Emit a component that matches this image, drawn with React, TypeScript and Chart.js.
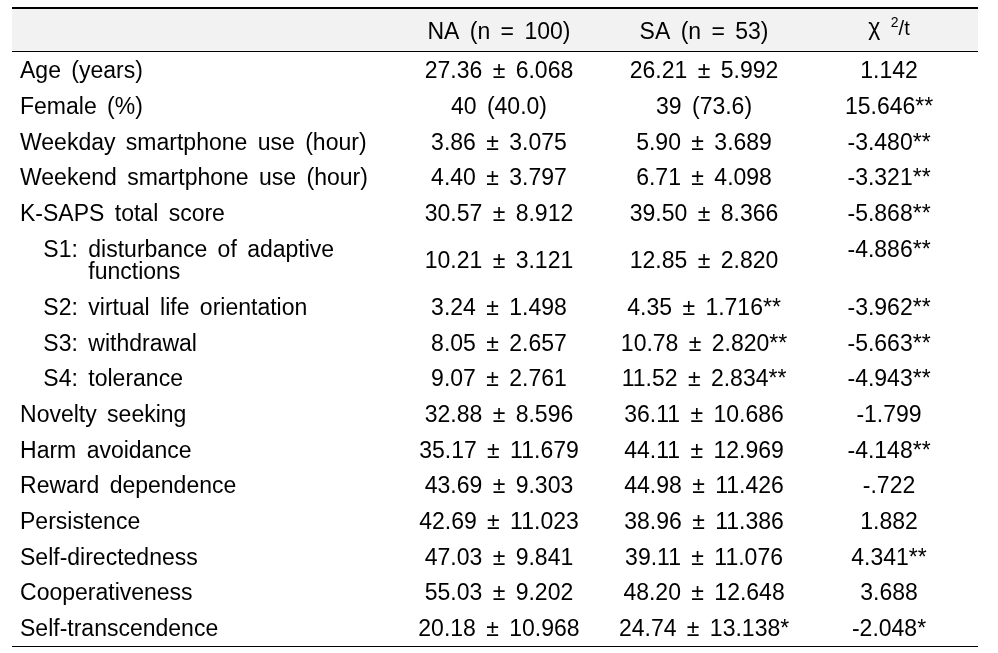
import React, { useEffect, useRef } from "react";
import { Chart, registerables } from "chart.js";

Chart.register(...registerables);

// ---- Data ----
const columnHeaders = ["NA (n = 100)", "SA (n = 53)", "χ ^2/t"];

const rowLabels = [
  "Age (years)",
  "Female (%)",
  "Weekday smartphone use (hour)",
  "Weekend smartphone use (hour)",
  "K-SAPS total score",
  "S1: disturbance of adaptive\nfunctions",
  "S2: virtual life orientation",
  "S3: withdrawal",
  "S4: tolerance",
  "Novelty seeking",
  "Harm avoidance",
  "Reward dependence",
  "Persistence",
  "Self-directedness",
  "Cooperativeness",
  "Self-transcendence",
];

const naValues = [
  "27.36 ± 6.068",
  "40 (40.0)",
  "3.86 ± 3.075",
  "4.40 ± 3.797",
  "30.57 ± 8.912",
  "10.21 ± 3.121",
  "3.24 ± 1.498",
  "8.05 ± 2.657",
  "9.07 ± 2.761",
  "32.88 ± 8.596",
  "35.17 ± 11.679",
  "43.69 ± 9.303",
  "42.69 ± 11.023",
  "47.03 ± 9.841",
  "55.03 ± 9.202",
  "20.18 ± 10.968",
];

const saValues = [
  "26.21 ± 5.992",
  "39 (73.6)",
  "5.90 ± 3.689",
  "6.71 ± 4.098",
  "39.50 ± 8.366",
  "12.85 ± 2.820",
  "4.35 ± 1.716**",
  "10.78 ± 2.820**",
  "11.52 ± 2.834**",
  "36.11 ± 10.686",
  "44.11 ± 12.969",
  "44.98 ± 11.426",
  "38.96 ± 11.386",
  "39.11 ± 11.076",
  "48.20 ± 12.648",
  "24.74 ± 13.138*",
];

const statValues = [
  "1.142",
  "15.646**",
  "-3.480**",
  "-3.321**",
  "-5.868**",
  "-4.886**",
  "-3.962**",
  "-5.663**",
  "-4.943**",
  "-1.799",
  "-4.148**",
  "-.722",
  "1.882",
  "4.341**",
  "3.688",
  "-2.048*",
];

// ---- Layout (in table units) ----
const LINE_STEP = 0.625; // extra line inside a cell, in row units
const COL_LABEL = 0.0083;
const COL_SUB_PREFIX = 0.0324;
const COL_SUB_TEXT = 0.079;
const COL_NA = 0.5041;
const COL_SA = 0.7164;
const COL_STAT = 0.9079;
const Y_TOP = -1.969;
const HEADER_RULE = -0.778;
const HEADER_BASE = -1.092;
const STAT_HEADER_BASE = -1.2;
const BOTTOM_PAD = 0.305;

const FONT_FAMILY = '"Liberation Sans", Arial, Helvetica, sans-serif';
const FONT_SIZE = 23;

// row baselines computed from number of lines in each label
const rowLines = rowLabels.map((l) => l.split("\n").length);
const rowY: number[] = [];
{
  let y = 0;
  rowLines.forEach((n) => {
    rowY.push(y);
    y += 1 + (n - 1) * LINE_STEP;
  });
}
const yMax = rowY[rowY.length - 1] + (rowLines[rowLines.length - 1] - 1) * LINE_STEP + BOTTOM_PAD;

function setFont(ctx: CanvasRenderingContext2D, size: number) {
  ctx.font = `${size}px ${FONT_FAMILY}`;
  try {
    (ctx as any).wordSpacing = "4px";
  } catch (e) {}
}

function drawHeaderRich(ctx: CanvasRenderingContext2D, text: string, cx: number, y: number) {
  const idx = text.indexOf("^");
  if (idx < 0) {
    setFont(ctx, FONT_SIZE);
    ctx.textAlign = "center";
    ctx.fillText(text, cx, y);
    return;
  }
  const a = text.slice(0, idx);
  const sup = text.slice(idx + 1, idx + 2);
  const rest = text.slice(idx + 2);
  setFont(ctx, FONT_SIZE);
  const wa = ctx.measureText(a).width;
  setFont(ctx, 14);
  const ws = ctx.measureText(sup).width;
  setFont(ctx, 20);
  const wr = ctx.measureText(rest).width;
  let x = cx - (wa + ws + wr) / 2;
  ctx.textAlign = "left";
  setFont(ctx, FONT_SIZE);
  ctx.fillText(a, x, y);
  x += wa;
  setFont(ctx, 14);
  ctx.fillText(sup, x, y - 8);
  x += ws;
  setFont(ctx, 20);
  ctx.fillText(rest, x, y);
}

const tablePlugin = {
  id: "tableCells",
  beforeDatasetsDraw(chart: any) {
    const { ctx, chartArea, scales } = chart;
    const yRule = scales.y.getPixelForValue(HEADER_RULE);
    ctx.save();
    ctx.fillStyle = "#f2f2f2";
    ctx.fillRect(chartArea.left, chartArea.top + 1, chartArea.right - chartArea.left, yRule - chartArea.top - 1);
    ctx.strokeStyle = "#000";
    ctx.lineWidth = 2;
    ctx.beginPath();
    ctx.moveTo(chartArea.left, chartArea.top);
    ctx.lineTo(chartArea.right, chartArea.top);
    ctx.stroke();
    ctx.lineWidth = 1;
    ctx.beginPath();
    ctx.moveTo(chartArea.left, Math.round(yRule) + 0.5);
    ctx.lineTo(chartArea.right, Math.round(yRule) + 0.5);
    ctx.moveTo(chartArea.left, Math.round(chartArea.bottom) - 0.5);
    ctx.lineTo(chartArea.right, Math.round(chartArea.bottom) - 0.5);
    ctx.stroke();
    ctx.restore();
  },
  afterDatasetsDraw(chart: any) {
    const { ctx, scales } = chart;
    ctx.save();
    ctx.fillStyle = "#000";
    ctx.textBaseline = "alphabetic";
    const lineStepPx = Math.abs(scales.y.getPixelForValue(LINE_STEP) - scales.y.getPixelForValue(0));

    const headerCols = [COL_NA, COL_SA, COL_STAT];
    columnHeaders.forEach((h, i) => {
      const base = i === 2 ? STAT_HEADER_BASE : HEADER_BASE;
      drawHeaderRich(ctx, h, scales.x.getPixelForValue(headerCols[i]), scales.y.getPixelForValue(base));
    });

    const labelMeta = chart.getDatasetMeta(0);
    labelMeta.data.forEach((pt: any, i: number) => {
      const label = rowLabels[i];
      setFont(ctx, FONT_SIZE);
      ctx.textAlign = "left";
      const m = label.match(/^(S\d:)\s+([\s\S]*)$/);
      if (m) {
        ctx.fillText(m[1], scales.x.getPixelForValue(COL_SUB_PREFIX), pt.y);
        const lines = m[2].split("\n");
        lines.forEach((ln, k) => {
          ctx.fillText(ln, scales.x.getPixelForValue(COL_SUB_TEXT), pt.y + k * lineStepPx);
        });
      } else {
        label.split("\n").forEach((ln, k) => ctx.fillText(ln, pt.x, pt.y + k * lineStepPx));
      }
    });

    const valueSets = [naValues, saValues, statValues];
    [1, 2, 3].forEach((di, j) => {
      const meta = chart.getDatasetMeta(di);
      meta.data.forEach((pt: any, i: number) => {
        setFont(ctx, FONT_SIZE);
        ctx.textAlign = "center";
        ctx.fillText(valueSets[j][i], pt.x, pt.y);
      });
    });
    ctx.restore();
  },
};

export default function App() {
  const ref = useRef<HTMLCanvasElement | null>(null);
  useEffect(() => {
    if (!ref.current) return;
    const mid = (i: number) => rowY[i] + ((rowLines[i] - 1) * LINE_STEP) / 2;
    const chart = new Chart(ref.current, {
      type: "scatter",
      data: {
        datasets: [
          { label: "label", data: rowLabels.map((_, i) => ({ x: COL_LABEL, y: rowY[i] })), pointRadius: 0 },
          { label: "NA", data: naValues.map((_, i) => ({ x: COL_NA, y: mid(i) })), pointRadius: 0 },
          { label: "SA", data: saValues.map((_, i) => ({ x: COL_SA, y: mid(i) })), pointRadius: 0 },
          { label: "stat", data: statValues.map((_, i) => ({ x: COL_STAT, y: rowY[i] })), pointRadius: 0 },
        ],
      },
      options: {
        animation: false,
        responsive: false,
        events: [],
        layout: { padding: { left: 12, right: 20, top: 8, bottom: 6 } },
        scales: {
          x: { type: "linear", min: 0, max: 1, display: false },
          y: { type: "linear", min: Y_TOP, max: yMax, reverse: true, display: false },
        },
        plugins: { legend: { display: false }, tooltip: { enabled: false } },
      },
      plugins: [tablePlugin],
    } as any);
    return () => chart.destroy();
  }, []);
  return (
    <div style={{ position: "fixed", left: 0, top: 0, width: 998, height: 653, background: "#fff" }}>
      <canvas ref={ref} width={998} height={653} />
    </div>
  );
}
